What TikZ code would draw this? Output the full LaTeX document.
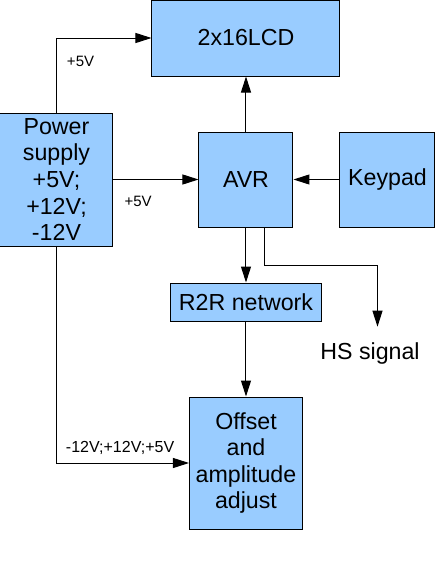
\documentclass[tikz,border=0pt]{standalone}
\usepackage{fontspec}
\setmainfont{Liberation Sans}
\usetikzlibrary{positioning, arrows.meta}
\definecolor{boxblue}{RGB}{153,204,255}

\begin{document}
\begin{tikzpicture}
	[on grid, line width=0.5pt, >={Triangle[length=8pt,width=5pt]},
	 block/.style={draw, fill=boxblue, align=center, inner sep=0pt,
	   font=\fontsize{11.6}{13.3}\selectfont},
	 lbl/.style={font=\fontsize{7.5}{9}\selectfont, inner sep=1pt}]
   \useasboundingbox (-123pt,-194.25pt) rectangle (99.5pt,89.75pt);
   \node[block, minimum width=47pt, minimum height=47.5pt] (avr) at (0,0) {AVR};
   \node[block, minimum width=94pt, minimum height=38pt] (lcd) [above=70.75pt of avr] {2x16LCD};
   \node[block, minimum width=56.5pt, minimum height=66.5pt] (pwr) [left=94.75pt of avr] {Power\\supply\\+5V;\\+12V;\\-12V};
   \node[block, minimum width=47.5pt, minimum height=47.5pt] (kpd) [right=70.75pt of avr] {Keypad};
   \node[block, minimum width=75.5pt, minimum height=19pt] (r2r) [below=61.25pt of avr] {R2R network};
   \node[block, minimum width=56.5pt, minimum height=66pt] (ofs) [below=80.5pt of r2r] {Offset\\and\\amplitude\\adjust};
   \node[font=\fontsize{11.6}{13.3}\selectfont, inner sep=0pt] (hs) [below right=86.75pt and 62pt of avr] {HS signal};
    \path[->]
    (pwr) edge node[lbl, pos=0.29, anchor=north, yshift=-7pt] {+5V} (avr)
    (kpd) edge (avr)
    (avr) edge (lcd)
          edge (r2r)
    (r2r) edge (ofs);
    \draw[->] (pwr.north) |- node[lbl, pos=0.34, anchor=west, xshift=4pt] {+5V} (lcd.west);
    \draw[->] (pwr.south) |- node[lbl, pos=0.5, anchor=south west, xshift=3.5pt, yshift=3pt, font=\fontsize{8}{9}\selectfont] {-12V;+12V;+5V} (ofs.west);
    \draw[->] ([xshift=9.5pt]avr.south) -- ++(0,-19pt) -| ([xshift=3.75pt,yshift=7.5pt]hs.north);
\end{tikzpicture}
\end{document}
